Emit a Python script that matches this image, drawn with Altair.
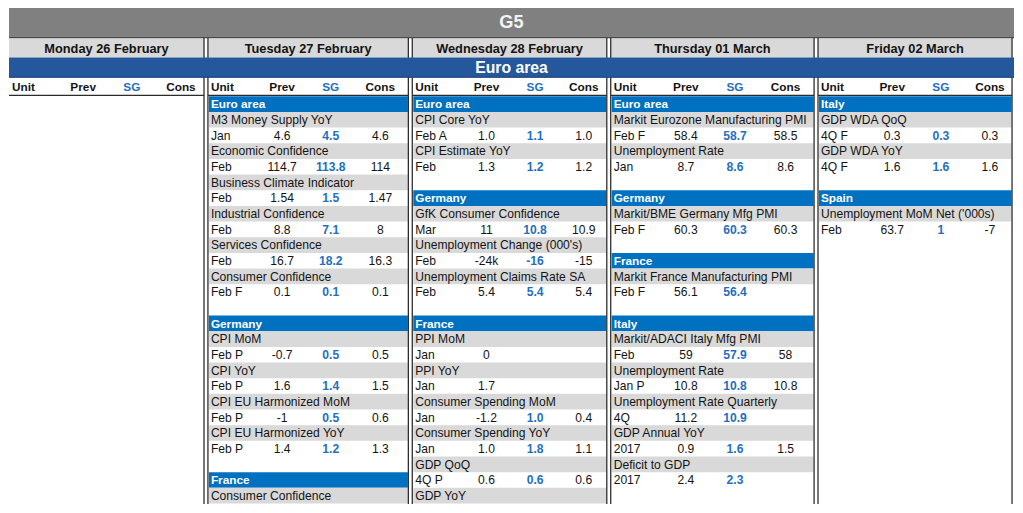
import altair as alt
import pandas as pd

# ---------------- data ----------------
TITLE = "G5"
REGION = "Euro area"
DAYS = ["Monday 26 February", "Tuesday 27 February", "Wednesday 28 February",
        "Thursday 01 March", "Friday 02 March"]
COL_HEADERS = ["Unit", "Prev", "SG", "Cons"]

MON = []

TUE = [
    ("sec", "Euro area"),
    ("ind", "M3 Money Supply YoY", "Jan", "4.6", "4.5", "4.6"),
    ("ind", "Economic Confidence", "Feb", "114.7", "113.8", "114"),
    ("ind", "Business Climate Indicator", "Feb", "1.54", "1.5", "1.47"),
    ("ind", "Industrial Confidence", "Feb", "8.8", "7.1", "8"),
    ("ind", "Services Confidence", "Feb", "16.7", "18.2", "16.3"),
    ("ind", "Consumer Confidence", "Feb F", "0.1", "0.1", "0.1"),
    ("blank",),
    ("sec", "Germany"),
    ("ind", "CPI MoM", "Feb P", "-0.7", "0.5", "0.5"),
    ("ind", "CPI YoY", "Feb P", "1.6", "1.4", "1.5"),
    ("ind", "CPI EU Harmonized MoM", "Feb P", "-1", "0.5", "0.6"),
    ("ind", "CPI EU Harmonized YoY", "Feb P", "1.4", "1.2", "1.3"),
    ("blank",),
    ("sec", "France"),
    ("ind", "Consumer Confidence", "", "", "", ""),
]

WED = [
    ("sec", "Euro area"),
    ("ind", "CPI Core YoY", "Feb A", "1.0", "1.1", "1.0"),
    ("ind", "CPI Estimate YoY", "Feb", "1.3", "1.2", "1.2"),
    ("blank",),
    ("sec", "Germany"),
    ("ind", "GfK Consumer Confidence", "Mar", "11", "10.8", "10.9"),
    ("ind", "Unemployment Change (000's)", "Feb", "-24k", "-16", "-15"),
    ("ind", "Unemployment Claims Rate SA", "Feb", "5.4", "5.4", "5.4"),
    ("blank",),
    ("sec", "France"),
    ("ind", "PPI MoM", "Jan", "0", "", ""),
    ("ind", "PPI YoY", "Jan", "1.7", "", ""),
    ("ind", "Consumer Spending MoM", "Jan", "-1.2", "1.0", "0.4"),
    ("ind", "Consumer Spending YoY", "Jan", "1.0", "1.8", "1.1"),
    ("ind", "GDP QoQ", "4Q P", "0.6", "0.6", "0.6"),
    ("ind", "GDP YoY", "", "", "", ""),
]

THU = [
    ("sec", "Euro area"),
    ("ind", "Markit Eurozone Manufacturing PMI", "Feb F", "58.4", "58.7", "58.5"),
    ("ind", "Unemployment Rate", "Jan", "8.7", "8.6", "8.6"),
    ("blank",),
    ("sec", "Germany"),
    ("ind", "Markit/BME Germany Mfg PMI", "Feb F", "60.3", "60.3", "60.3"),
    ("blank",),
    ("sec", "France"),
    ("ind", "Markit France Manufacturing PMI", "Feb F", "56.1", "56.4", ""),
    ("blank",),
    ("sec", "Italy"),
    ("ind", "Markit/ADACI Italy Mfg PMI", "Feb", "59", "57.9", "58"),
    ("ind", "Unemployment Rate", "Jan P", "10.8", "10.8", "10.8"),
    ("ind", "Unemployment Rate Quarterly", "4Q", "11.2", "10.9", ""),
    ("ind", "GDP Annual YoY", "2017", "0.9", "1.6", "1.5"),
    ("ind", "Deficit to GDP", "2017", "2.4", "2.3", ""),
]

FRI = [
    ("sec", "Italy"),
    ("ind", "GDP WDA QoQ", "4Q F", "0.3", "0.3", "0.3"),
    ("ind", "GDP WDA YoY", "4Q F", "1.6", "1.6", "1.6"),
    ("blank",),
    ("sec", "Spain"),
    ("ind", "Unemployment MoM Net ('000s)", "Feb", "63.7", "1", "-7"),
]

COLUMNS = [MON, TUE, WED, THU, FRI]

# ---------------- layout (reference pixel units) ----------------
W_REF, H_REF = 1023, 513
OUT_W, OUT_H = 1007, 497
S = OUT_W / W_REF
FONT = "Liberation Sans"

COL_LEFT = [0, 202.5, 410.5, 612.5, 823.5]
COL_RIGHT = [198.5, 406.5, 608.5, 819.5, 1021]
OFF_PREV = [75.5, 75.5, 75.5, 76.5, 75.5]
OFF_SG = [125, 125, 125, 126.5, 125]
OFF_CONS = [175, 175.5, 174.5, 178, 175]
ROW0, PITCH, NROWS = 91.3, 16.2, 26

C_GRAY_BANNER = "#808080"
C_LIGHT = "#d9d9d9"
C_DARKBLUE = "#25579d"
C_BLUE = "#0070c0"
C_SG = "#1f6fc0"
C_LINE = "#2b2b2b"
C_TXT = "#141414"

rects, rules, texts = [], [], []


def add_text(x, y, t, color=C_TXT, size=12.3, bold=False, align="left"):
    texts.append(dict(x=x, y=y, text=t, color=color, size=size * S,
                      bold=bold, align=align))


# top banners
rects.append(dict(x=0, x2=W_REF, y=0, y2=30, color=C_GRAY_BANNER, layer=0))
add_text(W_REF / 2, 15.5, TITLE, color="#f4f4f4", size=18.5, bold=True, align="center")
rules.append(dict(x=0, x2=W_REF, y=30.6, y2=30.6, color="#4a4a4a", size=1.3 * S))

for i, day in enumerate(DAYS):
    L, R = COL_LEFT[i], COL_RIGHT[i]
    rects.append(dict(x=L, x2=R, y=31.5, y2=51.3, color=C_LIGHT, layer=0))
    add_text((L + R) / 2, 42, day, size=13, bold=True, align="center")
    # column header row
    hy = 81.5
    add_text(L + 3, hy, COL_HEADERS[0], size=12, bold=True, align="left")
    add_text(L + OFF_PREV[i], hy, COL_HEADERS[1], size=12, bold=True, align="center")
    add_text(L + OFF_SG[i], hy, COL_HEADERS[2], color=C_SG, size=12, bold=True, align="center")
    add_text(L + OFF_CONS[i], hy, COL_HEADERS[3], size=12, bold=True, align="center")
    rules.append(dict(x=L, x2=R, y=90.4, y2=90.4, color=C_LINE, size=1.1 * S))
    # vertical borders
    if i > 0:
        rules.append(dict(x=L, x2=L, y=31, y2=H_REF, color=C_LINE, size=1.3 * S))
    rules.append(dict(x=R, x2=R, y=31, y2=H_REF, color=C_LINE, size=1.3 * S))

    # body rows
    r = 0
    for e in COLUMNS[i]:
        kind = e[0]
        if kind == "blank":
            r += 1
            continue
        if kind == "sec":
            if r < NROWS:
                top = ROW0 + r * PITCH
                rects.append(dict(x=L + 1, x2=R - 0.5, y=top, y2=top + PITCH, color=C_BLUE, layer=0))
                add_text(L + 3, top + PITCH / 2 + 0.3, e[1], color="white", size=12, bold=True)
            r += 1
            continue
        name, unit, prev, sg, cons = e[1:]
        if r < NROWS:
            top = ROW0 + r * PITCH
            rects.append(dict(x=L + 1, x2=R - 0.5, y=top, y2=top + PITCH, color=C_LIGHT, layer=0))
            add_text(L + 3, top + PITCH / 2 + 0.3, name)
        if r + 1 < NROWS:
            yc = ROW0 + (r + 1) * PITCH + PITCH / 2 + 0.3
            if unit:
                add_text(L + 3, yc, unit)
            if prev:
                add_text(L + OFF_PREV[i], yc, prev, align="center")
            if sg:
                add_text(L + OFF_SG[i], yc, sg, color=C_SG, bold=True, align="center")
            if cons:
                add_text(L + OFF_CONS[i], yc, cons, align="center")
        r += 2

# Euro area banner drawn on top of the vertical rules
banner = pd.DataFrame([dict(x=0, x2=W_REF, y=51.3, y2=72, color=C_DARKBLUE)])
banner_edge = pd.DataFrame([dict(x=0, x2=W_REF, y=71.6, y2=71.6, color="#1b3f72", size=1.0 * S)])
add_text(W_REF / 2, 62, REGION, color="white", size=16, bold=True, align="center")

rect_df = pd.DataFrame(rects)
rule_df = pd.DataFrame(rules)
text_df = pd.DataFrame(texts)

XS = alt.Scale(domain=[0, W_REF], nice=False, zero=False)
YS = alt.Scale(domain=[0, H_REF], nice=False, zero=False, reverse=True)


def rect_layer(df):
    return alt.Chart(df).mark_rect(strokeWidth=0).encode(
        x=alt.X("x:Q", scale=XS, axis=None),
        x2="x2:Q",
        y=alt.Y("y:Q", scale=YS, axis=None),
        y2="y2:Q",
        color=alt.Color("color:N", scale=None),
    )


def rule_layer(df):
    return alt.Chart(df).mark_rule().encode(
        x=alt.X("x:Q", scale=XS, axis=None),
        x2="x2:Q",
        y=alt.Y("y:Q", scale=YS, axis=None),
        y2="y2:Q",
        color=alt.Color("color:N", scale=None),
        size=alt.Size("size:Q", scale=None),
    )


def text_layer(bold, align):
    sub = text_df[(text_df["bold"] == bold) & (text_df["align"] == align)]
    return alt.Chart(sub).mark_text(
        font=FONT, fontWeight="bold" if bold else "normal",
        align=align, baseline="middle",
    ).encode(
        x=alt.X("x:Q", scale=XS, axis=None),
        y=alt.Y("y:Q", scale=YS, axis=None),
        text="text:N",
        color=alt.Color("color:N", scale=None),
        size=alt.Size("size:Q", scale=None),
    )


chart = alt.layer(
    rect_layer(rect_df),
    rule_layer(rule_df),
    rect_layer(banner),
    rule_layer(banner_edge),
    text_layer(False, "left"),
    text_layer(False, "center"),
    text_layer(True, "left"),
    text_layer(True, "center"),
).properties(
    width=OUT_W,
    height=OUT_H,
    padding=0,
    background="white",
    autosize=alt.AutoSizeParams(type="fit", contains="padding"),
).configure_view(strokeWidth=0)

chart.save("out.html", embed_options={"renderer": "svg", "actions": False})
